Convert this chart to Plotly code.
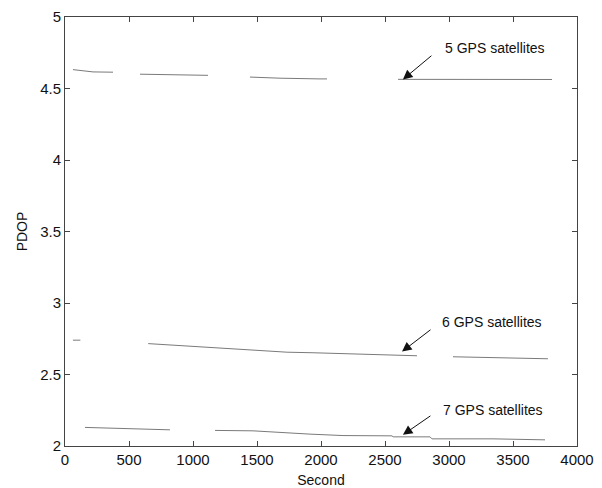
import plotly.graph_objects as go

# PDOP traces per satellite count (None marks gaps in the record)
sec_5 = [62, 219, 375, None, 586, 850, 1117, None, 1445, 1680, 1992, 2047, None, 2602, 3805]
pdop_5 = [4.632, 4.616, 4.614, None, 4.600, 4.598, 4.592, None, 4.580, 4.572, 4.567, 4.567, None, 4.564, 4.563]

sec_6 = [62, 120, None, 650, 1055, 1289, 1523, 1734, 1938, 2461, 2750, None, 3031, 3422, 3773]
pdop_6 = [2.74, 2.74, None, 2.716, 2.695, 2.683, 2.667, 2.656, 2.652, 2.638, 2.631, None, 2.624, 2.617, 2.61]

sec_7 = [156, 484, 820, None, 1172, 1469, 1914, 2172, 2555, 2563, 2852, 2867, 3344, 3750]
pdop_7 = [2.13, 2.12, 2.113, None, 2.109, 2.106, 2.083, 2.073, 2.071, 2.064, 2.064, 2.05, 2.05, 2.043]

labels = ["5 GPS satellites", "6 GPS satellites", "7 GPS satellites"]
label_pos = [(3359, 4.783), (3336, 2.87), (3344, 2.25)]
arrow_tips = [(2640, 4.563), (2633, 2.66), (2640, 2.078)]
arrow_off = [(30, -25), (30, -23), (29, -20)]

x_ticks = list(range(0, 4001, 500))
y_ticks = [2, 2.5, 3, 3.5, 4, 4.5, 5]

FONT = "Arial, Liberation Sans, sans-serif"

fig = go.Figure()
for xs, ys in [(sec_5, pdop_5), (sec_6, pdop_6), (sec_7, pdop_7)]:
    fig.add_trace(go.Scatter(x=xs, y=ys, mode="lines", connectgaps=False,
                             line=dict(color="#7a7a7a", width=1),
                             showlegend=False, hoverinfo="skip"))

annotations = []
for text, (tx, ty), (hx, hy), (ox, oy) in zip(labels, label_pos, arrow_tips, arrow_off):
    annotations.append(dict(x=tx, y=ty, xref="x", yref="y", text=text,
                            showarrow=False, xanchor="center", yanchor="middle",
                            font=dict(family=FONT, size=14, color="#111")))
    annotations.append(dict(x=hx, y=hy, xref="x", yref="y", text="",
                            showarrow=True, ax=ox, ay=oy, axref="pixel", ayref="pixel",
                            arrowhead=2, arrowsize=1.9, arrowwidth=1,
                            arrowcolor="#111"))

axis_common = dict(showgrid=False, zeroline=False, showline=True, mirror="ticks",
                   linecolor="#444", linewidth=1, ticks="inside", ticklen=5,
                   tickcolor="#444", automargin=False,
                   tickfont=dict(family=FONT, size=15, color="#111"))

fig.update_layout(
    width=602, height=488,
    margin=dict(l=65, r=25, t=17, b=42),
    paper_bgcolor="white", plot_bgcolor="white",
    xaxis=dict(range=[0, 4000], tickvals=x_ticks, ticktext=[str(v) for v in x_ticks],
               title=dict(text="Second", font=dict(family=FONT, size=14, color="#111"),
                          standoff=8),
               **axis_common),
    yaxis=dict(range=[2, 5], tickvals=y_ticks, ticktext=[f"{v:g}" for v in y_ticks],
               title=dict(text="PDOP", font=dict(family=FONT, size=14, color="#111"),
                          standoff=9),
               **axis_common),
    annotations=annotations,
)

fig.write_html("out.html")
